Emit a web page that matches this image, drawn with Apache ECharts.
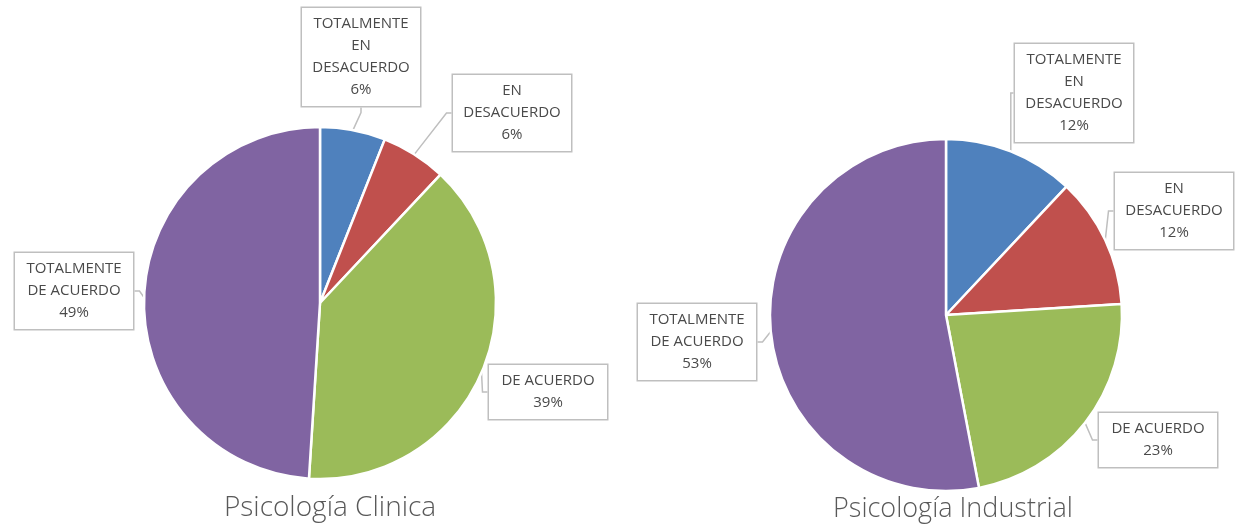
<!DOCTYPE html>
<html>
<head>
<meta charset="utf-8">
<script src="https://cdn.jsdelivr.net/npm/echarts@6/dist/echarts.min.js"></script>
<style>
  html, body { margin: 0; padding: 0; background: #fff; }
  #chart { width: 1236px; height: 531px; }
</style>
</head>
<body>
<div id="chart"></div>
<script>
// categorias y valores
const categories = ['TOTALMENTE\nEN\nDESACUERDO', 'EN\nDESACUERDO', 'DE ACUERDO', 'TOTALMENTE\nDE ACUERDO'];
const clinicaValues = [6, 6, 39, 49];
const industrialValues = [12, 12, 23, 53];
const titles = ['Psicología Clinica', 'Psicología Industrial'];

const colors = ['#4f81bd', '#c0504d', '#9bbb59', '#8064a2'];

// centros de las etiquetas (callouts), en el orden de categories
const labelPos = [
    [[361, 57], [512, 113], [548, 392], [74, 291]],
    [[1074, 93], [1174, 211], [1158, 440], [697, 342]]
];

const chart = echarts.init(document.getElementById('chart'));

function makeSeries(values, idx, center) {
    return {
        type: 'pie',
        center: center,
        radius: 176,
        startAngle: 90,
        clockwise: true,
        data: values.map((v, i) => ({ name: categories[i], value: v })),
        itemStyle: { borderColor: '#fff', borderWidth: 2.5 },
        label: {
            show: true,
            position: 'outside',
            formatter: '{b}\n{c}%',
            fontFamily: 'Open Sans',
            fontSize: 15,
            lineHeight: 22,
            color: '#4a4a4a',
            align: 'center',
            backgroundColor: '#fff',
            borderColor: '#bfbfbf',
            borderWidth: 1.5,
            padding: [5, 7],
            width: 104
        },
        labelLine: {
            show: true,
            length: 5,
            length2: 5,
            lineStyle: { color: '#bfbfbf', width: 1.5 }
        },
        labelLayout: function (p) {
            const pos = labelPos[idx][p.dataIndex];
            return { x: pos[0], y: pos[1], align: 'center', verticalAlign: 'middle', moveOverlap: null };
        },
        emphasis: { disabled: true },
        animation: false
    };
}

chart.setOption({
    color: colors,
    title: [
        {
            text: titles[0], left: 325, top: 489, textAlign: 'center',
            textStyle: { fontFamily: 'Open Sans', fontWeight: 300, fontSize: 28, color: '#595959' }
        },
        {
            text: titles[1], left: 948, top: 491, textAlign: 'center',
            textStyle: { fontFamily: 'Open Sans', fontWeight: 300, fontSize: 27, color: '#595959' }
        }
    ],
    series: [
        makeSeries(clinicaValues, 0, [320, 303]),
        makeSeries(industrialValues, 1, [946, 315])
    ]
});

window.addEventListener('resize', () => chart.resize());
</script>
</body>
</html>
